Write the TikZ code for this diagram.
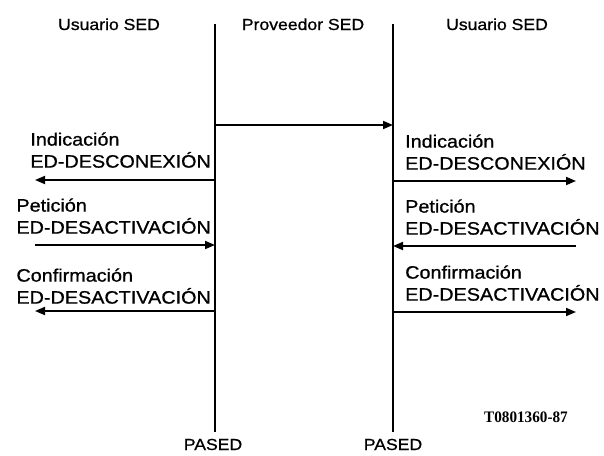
\documentclass[tikz,border=0pt]{standalone}
\usepackage{fontspec}
\setmainfont{Liberation Sans}[FakeStretch=1.1, FakeBold=0.8]
\newfontfamily\codefont{Liberation Serif}[FakeStretch=0.95]
\usetikzlibrary{positioning,arrows.meta}

\begin{document}
\begin{tikzpicture}[
        x=1pt, y=-1pt,
        head/.style={font=\fontsize{16}{19}\selectfont, inner sep=0pt, anchor=base},
        prim/.style={font=\fontsize{18}{22}\selectfont, align=left, inner sep=0pt},
        life/.style={line width=1.8pt},
        msg/.style={-{Triangle[length=10pt,width=8pt]}, line width=1.8pt}
    ]
    \useasboundingbox (0,0) rectangle (604,455);

    % Lifelines
    \coordinate (topL) at (215,24);
    \coordinate (botL) at (215,432);
    \coordinate (topR) at (393,24);
    \coordinate (botR) at (393,432);
    \draw[life] (topL) -- (botL);
    \draw[life] (topR) -- (botR);

    % Nodes - column headings
    \node[head] (userL) at (109,30) {Usuario SED};
    \node[head] (prov) at (303,30) {Proveedor SED};
    \node[head] (userR) at (497,30) {Usuario SED};

    % Nodes - access points
    \node[head] (pasedL) at (213,450) {PASED};
    \node[head] (pasedR) at (393,450) {PASED};
    \node[anchor=base, inner sep=0pt, font=\codefont\bfseries\fontsize{16}{18}\selectfont] (ref) at (526,422) {T0801360-87};

    % Nodes - primitives, left user
    \node[prim, anchor=south east] (indL) at (211,168) {Indicación\\ED-DESCONEXIÓN};
    \node[prim, anchor=south east] (petL) at (211,234) {Petición\\ED-DESACTIVACIÓN};
    \node[prim, anchor=south east] (confL) at (211,304) {Confirmación\\ED-DESACTIVACIÓN};

    % Nodes - primitives, right user
    \node[prim, anchor=south west] (indR) at (405,170) {Indicación\\ED-DESCONEXIÓN};
    \node[prim, anchor=south west] (petR) at (405,235) {Petición\\ED-DESACTIVACIÓN};
    \node[prim, anchor=south west] (confR) at (405,301) {Confirmación\\ED-DESACTIVACIÓN};

    % Arrow points
    \coordinate (provL) at (215,125);
    \coordinate (provR) at (393,125);
    \coordinate (indLa) at (215,180);
    \coordinate (indLb) at (35,180);
    \coordinate (petLa) at (35,245);
    \coordinate (petLb) at (215,245);
    \coordinate (confLa) at (215,311);
    \coordinate (confLb) at (35,311);
    \coordinate (indRa) at (393,181);
    \coordinate (indRb) at (576,181);
    \coordinate (petRa) at (576,246);
    \coordinate (petRb) at (393,246);
    \coordinate (confRa) at (393,312);
    \coordinate (confRb) at (576,312);

    % Arrows
    \draw[msg] (provL) -- (provR);
    \draw[msg] (indLa) -- (indLb);
    \draw[msg] (petLa) -- (petLb);
    \draw[msg] (confLa) -- (confLb);
    \draw[msg] (indRa) -- (indRb);
    \draw[msg] (petRa) -- (petRb);
    \draw[msg] (confRa) -- (confRb);

\end{tikzpicture}
\end{document}
